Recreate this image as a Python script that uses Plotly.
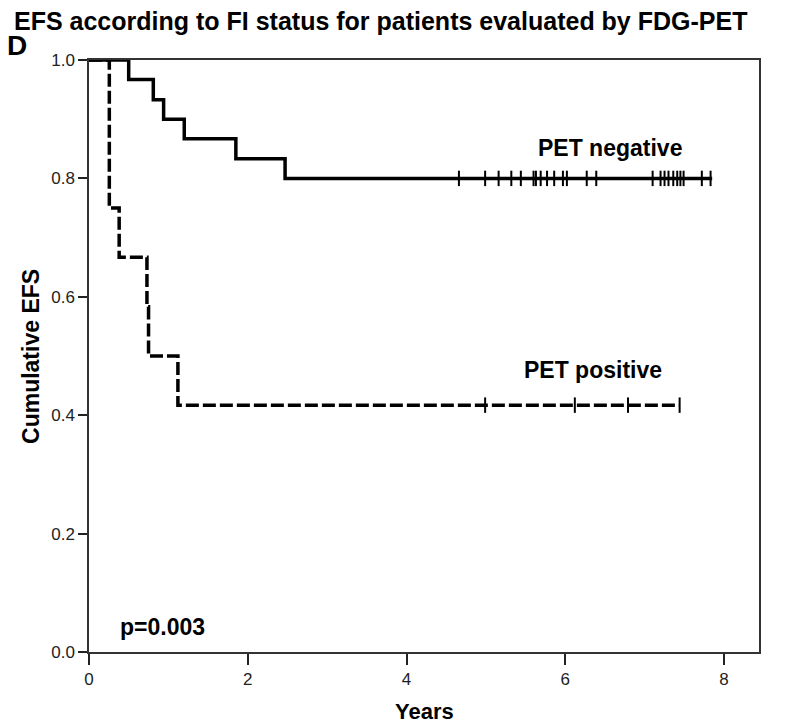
import plotly.graph_objects as go

# PET negative (n=30) step curve
neg_t = [0, 0.50, 0.81, 0.94, 1.20, 1.85, 2.47, 7.85]
neg_s = [1.0, 0.967, 0.933, 0.900, 0.867, 0.833, 0.800, 0.800]
neg_cens = [4.66, 4.99, 5.16, 5.32, 5.44, 5.60, 5.63, 5.69, 5.77, 5.86, 5.97, 6.02,
            6.27, 6.39, 7.10, 7.20, 7.25, 7.30, 7.36, 7.41, 7.45, 7.49, 7.72, 7.83]

# PET positive (n=12) step curve
pos_t = [0, 0.256, 0.38, 0.73, 0.75, 1.12, 7.44]
pos_s = [1.0, 0.750, 0.667, 0.583, 0.500, 0.417, 0.417]
pos_cens = [4.99, 6.12, 6.79, 7.44]

x_ticks = [0, 2, 4, 6, 8]
y_ticks = [0.0, 0.2, 0.4, 0.6, 0.8, 1.0]

fig = go.Figure()
fig.add_trace(go.Scatter(x=neg_t, y=neg_s, mode="lines", line=dict(color="black", width=3.5, shape="hv"),
                         cliponaxis=False, showlegend=False))
fig.add_trace(go.Scatter(x=neg_cens, y=[neg_s[-1]] * len(neg_cens), mode="markers",
                         marker=dict(symbol="line-ns", size=11, line=dict(color="black", width=2)),
                         cliponaxis=False, showlegend=False))
fig.add_trace(go.Scatter(x=pos_t, y=pos_s, mode="lines",
                         line=dict(color="black", width=3.5, shape="hv", dash="13px,4px"),
                         cliponaxis=False, showlegend=False))
fig.add_trace(go.Scatter(x=pos_cens, y=[pos_s[-1]] * len(pos_cens), mode="markers",
                         marker=dict(symbol="line-ns", size=11, line=dict(color="black", width=2)),
                         cliponaxis=False, showlegend=False))

bold = "Liberation Sans"
fig.add_annotation(x=6.56, y=0.851, text="<b>PET negative</b>", showarrow=False,
                   font=dict(family=bold, size=23, color="black"))
fig.add_annotation(x=6.35, y=0.476, text="<b>PET positive</b>", showarrow=False,
                   font=dict(family=bold, size=23, color="black"))
fig.add_annotation(x=0.365, y=0.042, text="<b>p=0.003</b>", showarrow=False, xanchor="left",
                   font=dict(family=bold, size=23, color="black"))
fig.add_annotation(xref="paper", yref="paper", x=-0.1254, y=1.025, text="<b>D</b>", showarrow=False,
                   xanchor="left", yanchor="middle", font=dict(family=bold, size=28, color="black"))
fig.add_annotation(xref="paper", yref="paper", x=-0.0866, y=0.5, text="<b>Cumulative EFS</b>",
                   textangle=-90, showarrow=False, xanchor="center", yanchor="middle",
                   font=dict(family=bold, size=23, color="black"))
fig.add_annotation(xref="paper", yref="paper", x=0.5, y=-0.101, text="<b>Years</b>",
                   showarrow=False, xanchor="center", yanchor="middle",
                   font=dict(family=bold, size=22, color="black"))

fig.update_layout(
    width=789, height=716,
    margin=dict(l=81, r=38, t=52, b=72),
    paper_bgcolor="white", plot_bgcolor="white",
    title=dict(text="<b>EFS according to FI status for patients evaluated by FDG-PET</b>",
               x=0.0076, xanchor="left", y=0.994, yanchor="top", yref="container",
               font=dict(family=bold, size=25, color="black")),
    font=dict(family="Liberation Sans, Arial", color="#222"),
)
fig.update_xaxes(range=[0, 8.44], tickvals=x_ticks, ticktext=[str(v) for v in x_ticks],
                 showgrid=False, zeroline=False, showline=True, mirror=True,
                 linecolor="#333", linewidth=1.5, ticks="outside", ticklen=11, tickwidth=2,
                 tickcolor="#222", tickfont=dict(size=17))
fig.update_yaxes(range=[0, 1.0], tickvals=y_ticks, ticktext=[f"{v:.1f}" for v in y_ticks],
                 showgrid=False, zeroline=False, showline=True, mirror=True,
                 linecolor="#333", linewidth=1.5, ticks="outside", ticklen=9, tickwidth=1.5,
                 tickcolor="#222", tickfont=dict(size=17))

fig.write_html("out.html")
